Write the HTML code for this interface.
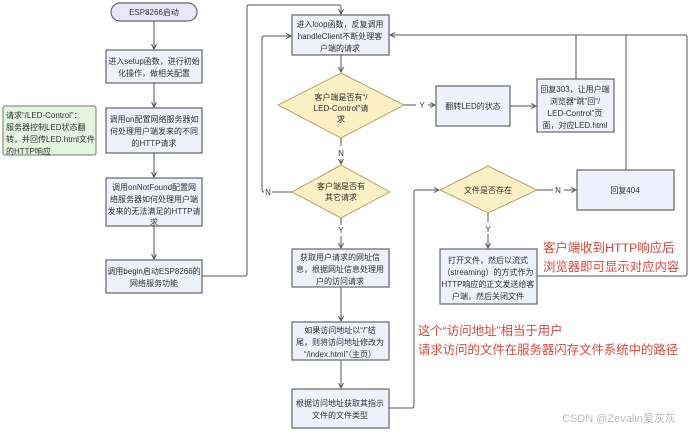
<!DOCTYPE html>
<html><head><meta charset="utf-8"><style>
html,body{margin:0;padding:0;background:#fff;}
svg{display:block;}
text{font-family:"Liberation Sans","Noto Sans CJK SC",sans-serif;font-size:8px;fill:#333;text-anchor:middle;}
.b{fill:#eef1fb;stroke:#666;stroke-width:1.2;}
.d{fill:#fbefc4;stroke:#b8a86a;stroke-width:1;}
.l{fill:none;stroke:#555;stroke-width:1;}
.r{fill:#d9483b;font-size:12.4px;text-anchor:start;}
</style></head><body>
<svg width="692" height="432" viewBox="0 0 692 432" xmlns="http://www.w3.org/2000/svg">
<defs><marker id="a" markerWidth="6" markerHeight="6" refX="5" refY="3" orient="auto"><path d="M0,0.5 L5,3 L0,5.5" fill="none" stroke="#555" stroke-width="1"/></marker></defs>
<rect x="111" y="3" width="86" height="18" rx="9" fill="#ece6fa" stroke="#666" stroke-width="1.2"/>
<text x="154" y="15">ESP8266启动</text>
<path class="l" d="M154 21V49" marker-end="url(#a)"/>
<rect class="b" x="106" y="50" width="96" height="33"/>
<text x="154" y="64">进入setup函数，进行初始</text><text x="154" y="76">化操作，做相关配置</text>
<path class="l" d="M154 83V107" marker-end="url(#a)"/>
<rect class="b" x="106" y="108" width="96" height="45"/>
<text x="154" y="122">调用on配置网络服务器如</text><text x="154" y="134">何处理用户端发来的不同</text><text x="154" y="146">的HTTP请求</text>
<path class="l" d="M154 153V177" marker-end="url(#a)"/>
<rect class="b" x="106" y="178" width="96" height="48"/>
<text x="154" y="190">调用onNotFound配置网</text><text x="154" y="202">络服务器如何处理用户端</text><text x="154" y="214">发来的无法满足的HTTP请</text><text x="154" y="225">求</text>
<path class="l" d="M154 226V259" marker-end="url(#a)"/>
<rect class="b" x="106" y="260" width="96" height="33"/>
<text x="154" y="274">调用begin启动ESP8266的</text><text x="154" y="286">网络服务功能</text>
<rect x="3" y="106" width="93" height="49" rx="2" fill="#e4f5df" stroke="#777" stroke-width="1"/>
<text x="6" y="118" style="text-anchor:start">请求“/LED-Control”：</text><text x="6" y="130" style="text-anchor:start">服务器控制LED状态翻</text><text x="6" y="142" style="text-anchor:start">转，并回传LED.html文件</text><text x="6" y="154" style="text-anchor:start">的HTTP响应</text>
<path class="l" d="M202 276H245Q247 276 247 274V7Q247 5 249 5H339Q341 5 341 7V14" marker-end="url(#a)"/>
<rect class="b" x="292" y="15" width="97" height="40"/>
<text x="340" y="27">进入loop函数，反复调用</text><text x="340" y="39">handleClient不断处理客</text><text x="340" y="51">户端的请求</text>
<path class="l" d="M341 55V72" marker-end="url(#a)"/>
<polygon class="d" points="341,73 404,105 341,138 278,105"/>
<text x="341" y="100">客户端是否有“/</text><text x="341" y="111">LED-Control”请</text><text x="341" y="122">求</text>
<path class="l" d="M404 105H416M428 105H435" marker-end="url(#a)"/>
<text x="422" y="108">Y</text>
<rect class="b" x="436" y="86" width="74" height="40"/>
<text x="473" y="109">翻转LED的状态</text>
<path class="l" d="M510 106H536" marker-end="url(#a)"/>
<rect class="b" x="537" y="79" width="77" height="53"/>
<text x="575" y="92">回复303，让用户端</text><text x="575" y="104">浏览器“跳”回“/</text><text x="575" y="116">LED-Control”页</text><text x="575" y="128">面，对应LED.html</text>
<path class="l" d="M576 79V35"/>
<path class="l" d="M341 138V146M341 159V164" marker-end="url(#a)"/>
<text x="341" y="156">N</text>
<polygon class="d" points="341,165 390,192 341,218 292,192"/>
<text x="341" y="189">客户端是否有</text><text x="341" y="200">其它请求</text>
<path class="l" d="M292 192H272M264 192Q262 192 262 190V38Q262 36 264 36H291" marker-end="url(#a)"/>
<text x="268" y="195">N</text>
<path class="l" d="M341 218V225M341 236V248" marker-end="url(#a)"/>
<text x="341" y="233">Y</text>
<rect class="b" x="292" y="249" width="97" height="38"/>
<text x="340" y="260">获取用户请求的网址信</text><text x="340" y="272">息，根据网址信息处理用</text><text x="340" y="284">户的访问请求</text>
<path class="l" d="M341 287V321" marker-end="url(#a)"/>
<rect class="b" x="292" y="322" width="97" height="38"/>
<text x="340" y="333">如果访问地址以“/”结</text><text x="340" y="345">尾，则将访问地址修改为</text><text x="340" y="357">“/index.html”（主页）</text>
<path class="l" d="M341 360V388" marker-end="url(#a)"/>
<rect class="b" x="292" y="389" width="97" height="39"/>
<text x="340" y="406">根据访问地址获取其指示</text><text x="340" y="418">文件的文件类型</text>
<path class="l" d="M389 408H412Q414 408 414 406V192Q414 190 416 190H439" marker-end="url(#a)"/>
<polygon class="d" points="488,166 537,190 488,213 440,190"/>
<text x="488" y="193">文件是否存在</text>
<path class="l" d="M537 190H553M564 190H576" marker-end="url(#a)"/>
<text x="558" y="193">N</text>
<rect class="b" x="577" y="170" width="97" height="40"/>
<text x="625" y="193">回复404</text>
<path class="l" d="M626 170V35"/>
<path class="l" d="M488 213V222M488 234V248" marker-end="url(#a)"/>
<text x="488" y="232">Y</text>
<rect class="b" x="440" y="249" width="97" height="55"/>
<text x="488" y="263">打开文件，然后以流式</text><text x="488" y="275">（streaming）的方式作为</text><text x="488" y="287">HTTP响应的正文发送给客</text><text x="488" y="299">户端，然后关闭文件</text>
<path class="l" d="M537 276H685Q687 276 687 274V37Q687 35 685 35H390" marker-end="url(#a)"/>
<text class="r" x="543" y="252">客户端收到HTTP响应后</text>
<text class="r" x="543" y="271">浏览器即可显示对应内容</text>
<text class="r" x="418" y="335">这个“访问地址”相当于用户</text>
<text class="r" x="418" y="354">请求访问的文件在服务器闪存文件系统中的路径</text>
<text x="562" y="422" style="text-anchor:start;font-size:11px;fill:#bbb">CSDN @Zevalin爱灰灰</text>
</svg>
</body></html>
